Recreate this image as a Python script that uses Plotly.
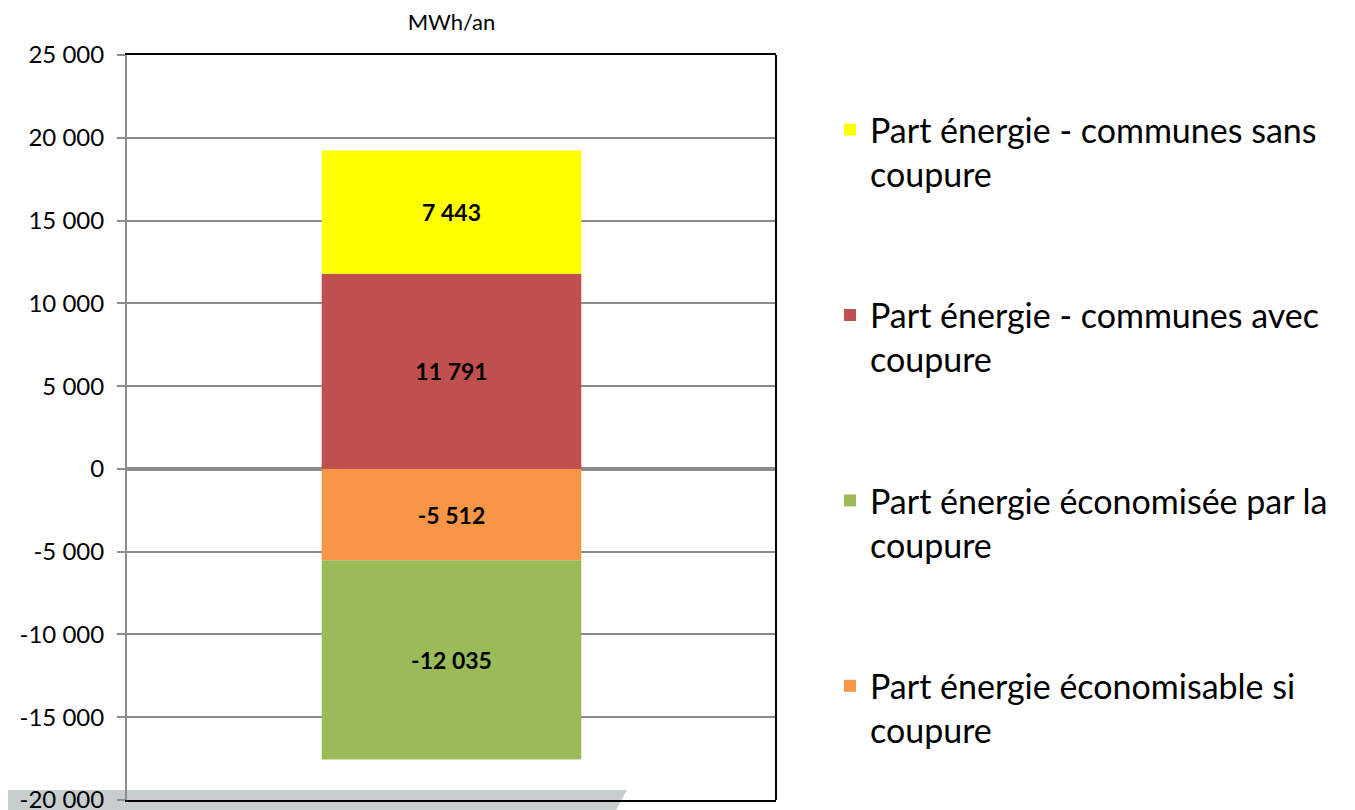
import plotly.graph_objects as go

category = ["Total"]
series_names = [
    "Part énergie - communes avec<br>coupure",
    "Part énergie - communes sans<br>coupure",
    "Part énergie économisable si<br>coupure",
    "Part énergie économisée par la<br>coupure",
]
series_values = [11791, 7443, -5512, -12035]
series_labels = ["11 791", "7 443", "-5 512", "-12 035"]
series_colors = ["#C0504D", "#FFFF00", "#F79646", "#9BBB59"]
legend_ranks = [2, 1, 4, 3]
tick_vals = [-20000, -15000, -10000, -5000, 0, 5000, 10000, 15000, 20000, 25000]
tick_text = ["-20 000", "-15 000", "-10 000", "-5 000", "0", "5 000", "10 000", "15 000", "20 000", "25 000"]

FONT = "Lato"

fig = go.Figure()
for name, val, lab, col, rank in zip(series_names, series_values, series_labels, series_colors, legend_ranks):
    fig.add_trace(go.Bar(
        x=category, y=[val], name=name, marker=dict(color=col, line=dict(width=0)),
        text=[lab], textposition="inside", insidetextanchor="middle",
        textfont=dict(family=FONT, size=23, color="black", weight="bold"),
        legendrank=rank, legendgroup=name, width=0.4,
    ))

W, H = 1347, 802
L, T = 119, 47
PW, PH = 649, 745


def px(xp):
    return (xp - 8 - L) / PW


def py(yp):
    return (T + PH - (yp - 8)) / PH


fig.update_layout(
    width=W, height=H,
    barmode="relative",
    paper_bgcolor="white", plot_bgcolor="rgba(0,0,0,0)",
    margin=dict(l=L, r=W - L - PW, t=T, b=H - T - PH, autoexpand=False),
    font=dict(family=FONT, color="black"),
    title=dict(text="MWh/an", x=(L + PW / 2) / W, xanchor="center", y=1 - 14 / H, yanchor="middle",
               font=dict(family=FONT, size=22, color="black")),
    showlegend=True,
    legend=dict(x=px(830), xanchor="left", y=py(101), yanchor="top",
                font=dict(family=FONT, size=34, color="black"), valign="top",
                tracegroupgap=94, itemwidth=30, bgcolor="rgba(0,0,0,0)"),
    uniformtext=dict(mode="show", minsize=8),
)
fig.update_xaxes(showticklabels=False, showgrid=False, showline=True, linecolor="black", linewidth=2,
                 mirror=True, ticks="", range=[-0.5, 0.5], zeroline=False, automargin=False)
fig.update_yaxes(range=[-20000, 25000], tickvals=tick_vals, ticktext=tick_text, showgrid=True,
                 gridcolor="#8c8c8c", gridwidth=2, zeroline=True, zerolinecolor="#8c8c8c", zerolinewidth=4,
                 showline=True, linecolor="#8c8c8c", linewidth=2, ticks="outside", ticklen=8,
                 tickcolor="#8c8c8c", tickwidth=2, tickfont=dict(family=FONT, size=24, color="black"),
                 ticklabelstandoff=8, ticklabeloverflow="allow", automargin=False)
fig.add_shape(type="line", xref="x domain", yref="y domain", x0=1, x1=1, y0=0, y1=1,
              line=dict(color="black", width=2))
# light grey slide band at the bottom (background decoration)
fig.add_shape(type="path", xref="paper", yref="paper", layer="below",
              path=f"M {px(0)},{py(790)} L {px(627)},{py(790)} L {px(615)},{py(812)} L {px(0)},{py(812)} Z",
              fillcolor="#c8cdd0", line=dict(width=0))

fig.write_html("out.html")
